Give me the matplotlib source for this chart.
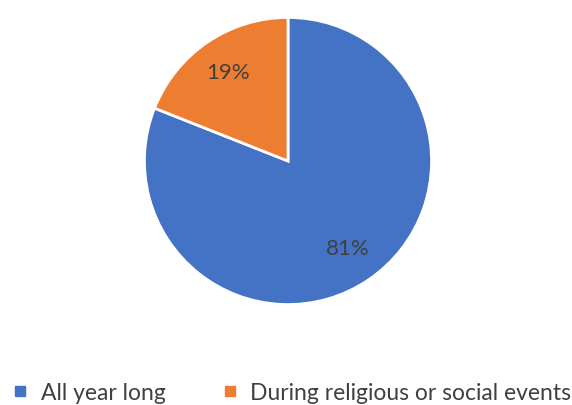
import matplotlib.pyplot as plt
from matplotlib.lines import Line2D

labels = ['All year long', 'During religious or social events']
values = [81, 19]
colors = ['#4472C4', '#ED7D31']

plt.rcParams['font.family'] = ['Lato', 'DejaVu Sans']
text_color = '#404040'

fig = plt.figure(figsize=(5.72, 4.05), dpi=100)
ax = fig.add_axes([143 / 572, 99 / 405, 290 / 572, 290 / 405])

ax.pie(values, colors=colors, startangle=90, counterclock=False,
       autopct='%1.0f%%', pctdistance=0.74, radius=1,
       wedgeprops=dict(edgecolor='white', linewidth=2),
       textprops=dict(color=text_color, fontsize=16))
ax.set_xlim(-1.01, 1.01)
ax.set_ylim(-1.01, 1.01)
ax.set_aspect('equal')
ax.axis('off')

# legend below the pie
handles = [Line2D([0], [0], marker='s', linestyle='', markersize=7,
                  markerfacecolor=c, markeredgecolor=c) for c in colors]
leg = fig.legend(handles, labels, loc='center', bbox_to_anchor=(0.509, 1 - 393 / 405),
                 ncol=2, frameon=False, fontsize=16.5, handlelength=0.8,
                 handletextpad=0.5, columnspacing=2.4)
for t in leg.get_texts():
    t.set_color(text_color)

fig.savefig('out.png', dpi=100)
